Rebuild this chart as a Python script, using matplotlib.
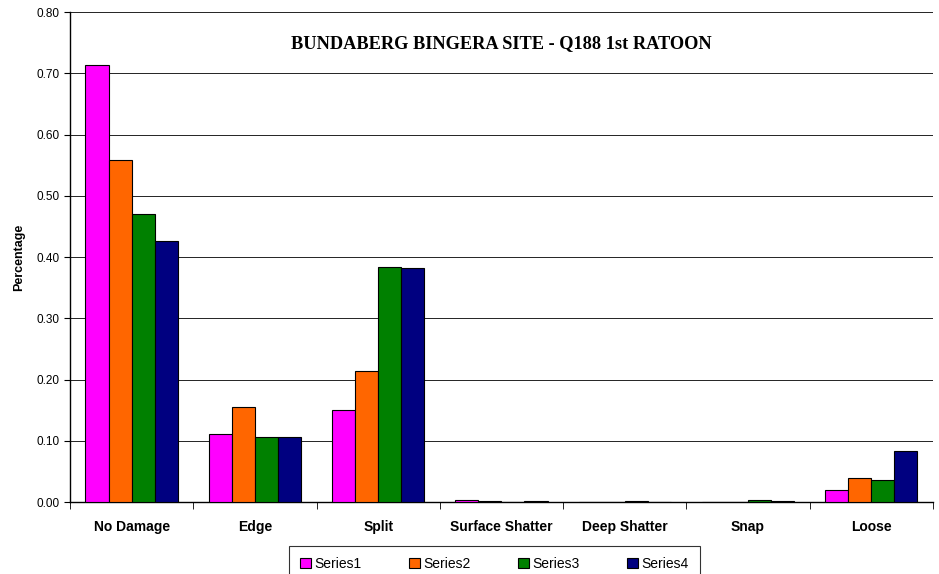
import numpy as np
import matplotlib
matplotlib.use('Agg')
import matplotlib.pyplot as plt
from matplotlib.ticker import FixedLocator, FormatStrFormatter

plt.rcParams['font.family'] = ['Liberation Sans', 'DejaVu Sans']

# 数据
categories = ['No Damage', 'Edge', 'Split', 'Surface Shatter', 'Deep Shatter', 'Snap', 'Loose']
series1 = [0.713, 0.111, 0.150, 0.003, 0.000, 0.000, 0.020]
series2 = [0.558, 0.155, 0.214, 0.001, 0.000, 0.000, 0.039]
series3 = [0.470, 0.106, 0.384, 0.000, 0.001, 0.003, 0.036]
series4 = [0.427, 0.106, 0.382, 0.002, 0.000, 0.001, 0.083]
series_names = ['Series1', 'Series2', 'Series3', 'Series4']
colors = ['#FF00FF', '#FF6600', '#008000', '#000080']

fig = plt.figure(figsize=(9.39, 5.74), dpi=100)
ax = fig.add_axes([0.0745, 0.1254, 0.919, 0.8536])

x = np.arange(len(categories))
w = 0.187
for i, vals in enumerate([series1, series2, series3, series4]):
    ax.bar(x + (i - 1.5) * w, vals, w, color=colors[i], edgecolor='black',
           linewidth=0.8, label=series_names[i], zorder=3)

ax.set_xlim(-0.5, len(categories) - 0.5)
ax.set_ylim(0, 0.8)
ax.set_yticks(np.arange(0, 0.81, 0.1))
ax.yaxis.set_major_formatter(FormatStrFormatter('%.2f'))
ax.grid(axis='y', color='black', linewidth=0.6, zorder=0)
ax.set_axisbelow(True)

ax.set_xticks(x)
ax.set_xticklabels(categories, fontsize=10, fontweight='bold')
ax.xaxis.set_minor_locator(FixedLocator(np.arange(-0.5, len(categories), 1)))
ax.tick_params(axis='x', which='major', length=0, pad=13)
ax.tick_params(axis='x', which='minor', length=5, direction='out')
ax.tick_params(axis='y', labelsize=8.5, length=4, direction='out')

for s in ['top', 'right']:
    ax.spines[s].set_visible(False)
ax.spines['left'].set_linewidth(1.0)
ax.spines['bottom'].set_linewidth(1.0)

ax.set_ylabel('Percentage', fontsize=9, fontweight='bold', labelpad=8)

ax.text(0.5, 0.935, 'BUNDABERG BINGERA SITE - Q188 1st RATOON', transform=ax.transAxes,
        ha='center', va='center', fontsize=13.2, fontweight='bold',
        family='Liberation Serif')

leg = fig.legend(loc='upper center', bbox_to_anchor=(0.5265, 0.049), ncol=4,
                 frameon=True, fancybox=False, edgecolor='black', fontsize=10,
                 handlelength=0.8, handleheight=0.8, handletextpad=0.25,
                 columnspacing=3.4, borderpad=0.8, borderaxespad=0)
leg.get_frame().set_linewidth(0.8)

fig.savefig('out.png', dpi=100)
